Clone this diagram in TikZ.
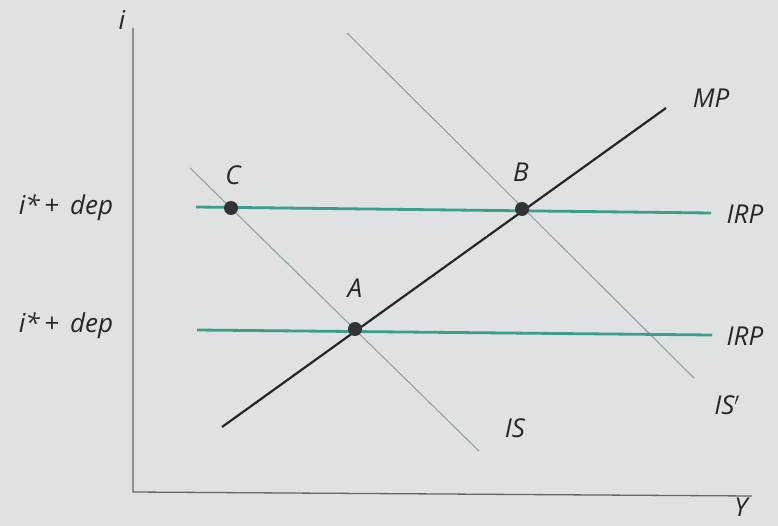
\documentclass[tikz,border=0pt]{standalone}
\usepackage{fontspec}
\setmainfont{Open Sans}
\definecolor{irpcol}{RGB}{58,158,138}
\definecolor{iscol}{RGB}{140,165,160}
\definecolor{paper}{RGB}{224,225,227}
\begin{document}
\begin{tikzpicture}[x=1pt,y=-1pt,
  axis/.style={draw=black!60, line width=1.3pt},
  irp/.style={draw=irpcol, line width=2.8pt},
  isline/.style={draw=iscol, line width=1.1pt},
  mp/.style={draw=black!85, line width=2.2pt},
  pt/.style={circle, fill=black!80, inner sep=0pt, minimum size=14pt},
  lab/.style={font=\fontsize{26}{30}\selectfont\itshape, text=black!85, inner sep=0pt}]
\fill[paper] (0,0) rectangle (778,526);
\useasboundingbox (0,0) rectangle (778,526);
% axes
\coordinate (o) at (133,492);
\coordinate (yt) at (133,28);
\coordinate (xr) at (752,496);
\draw[axis] (yt) -- (o) -- (xr);
\node[lab] (ilab) at (122,20) {i};
\node[lab] (Ylab) at (741,507) {Y};
% IS curves
\coordinate (is1) at (190,168);
\coordinate (is2) at (479,451);
\coordinate (isp1) at (347,33);
\coordinate (isp2) at (694,378);
\draw[isline] (is1) -- (is2);
\draw[isline] (isp1) -- (isp2);
% IRP lines
\coordinate (u1) at (196,207);
\coordinate (u2) at (711,213);
\coordinate (l1) at (197,330);
\coordinate (l2) at (712,335);
\draw[irp] (u1) -- (u2);
\draw[irp] (l1) -- (l2);
% MP
\coordinate (mp1) at (222,427);
\coordinate (mp2) at (666,108);
\draw[mp] (mp1) -- (mp2);
% points
\node[pt] (C) at (231,208) {};
\node[pt] (B) at (522,209) {};
\node[pt] (A) at (355,329) {};
% labels
\node[lab] (Cl) at (233,175) {C};
\node[lab] (Bl) at (521,172) {B};
\node[lab] (Al) at (355,288) {A};
\node[lab] (MPl) at (711,98) {MP};
\node[lab] (IRPu) at (745,214) {IRP};
\node[lab] (IRPl) at (745,336) {IRP};
\node[lab] (ISl) at (515,428) {IS};
\node[lab] (ISpl) at (727,405) {IS$'$};
\node[lab] (du) at (66,208) {i*\,+\, dep};
\node[lab] (dl) at (66,326) {i*\,+\, dep};
\end{tikzpicture}
\end{document}
